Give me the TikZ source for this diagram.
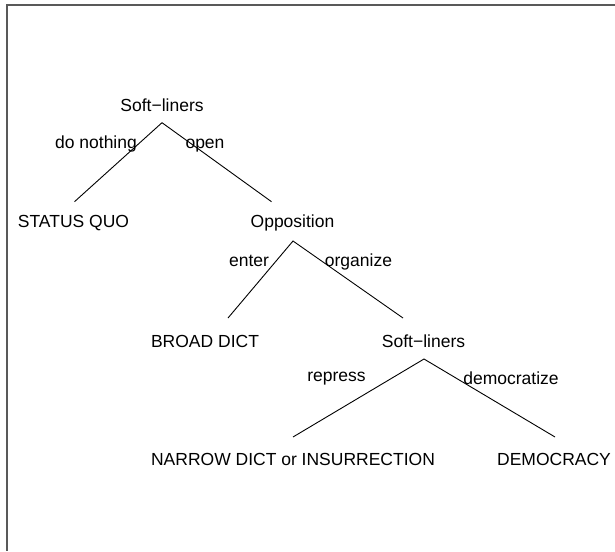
\documentclass[tikz,border=0pt]{standalone}
\usepackage{fontspec}
\setmainfont{Liberation Sans}
\begin{document}
\begin{tikzpicture}[x=1pt,y=-1pt,
  lbl/.style={anchor=base,inner sep=0pt,font=\fontsize{17.5}{20}\selectfont},
  branch/.style={draw=black,line width=0.9pt},
  frameline/.style={draw=black!65,line width=1.3pt}]
\useasboundingbox (0,0) rectangle (615,551);
\coordinate (fa) at (615,5);
\coordinate (fb) at (7,5);
\coordinate (fc) at (7,551);
\draw[frameline] (fa) -- (fb) -- (fc);
% nodes
\node[lbl] (s1) at (162,111.5) {Soft−liners};
\node[lbl] (sq) at (73.5,227) {STATUS QUO};
\node[lbl] (op) at (292.5,227) {Opposition};
\node[lbl] (bd) at (205,347) {BROAD DICT};
\node[lbl] (s2) at (423.5,347) {Soft−liners};
\node[lbl] (nd) at (293,465) {NARROW DICT or INSURRECTION};
\node[lbl] (dm) at (554,465) {DEMOCRACY};
% edge labels
\node[lbl] (l1) at (96,148) {do nothing};
\node[lbl] (l2) at (205,148) {open};
\node[lbl] (l3) at (249,266.5) {enter};
\node[lbl] (l4) at (358.5,266.5) {organize};
\node[lbl] (l5) at (336.5,381.5) {repress};
\node[lbl] (l6) at (511,384) {democratize};
% connector end points
\coordinate (a1) at (162,122.7);
\coordinate (e1) at (74.5,201.7);
\coordinate (e2) at (271.5,201.7);
\coordinate (a2) at (293,241);
\coordinate (e3) at (228,318);
\coordinate (e4) at (403,318);
\coordinate (a3) at (424,359);
\coordinate (e5) at (293,437);
\coordinate (e6) at (555,437);
\draw[branch] (e1) -- (a1) -- (e2);
\draw[branch] (e3) -- (a2) -- (e4);
\draw[branch] (e5) -- (a3) -- (e6);
\end{tikzpicture}
\end{document}
